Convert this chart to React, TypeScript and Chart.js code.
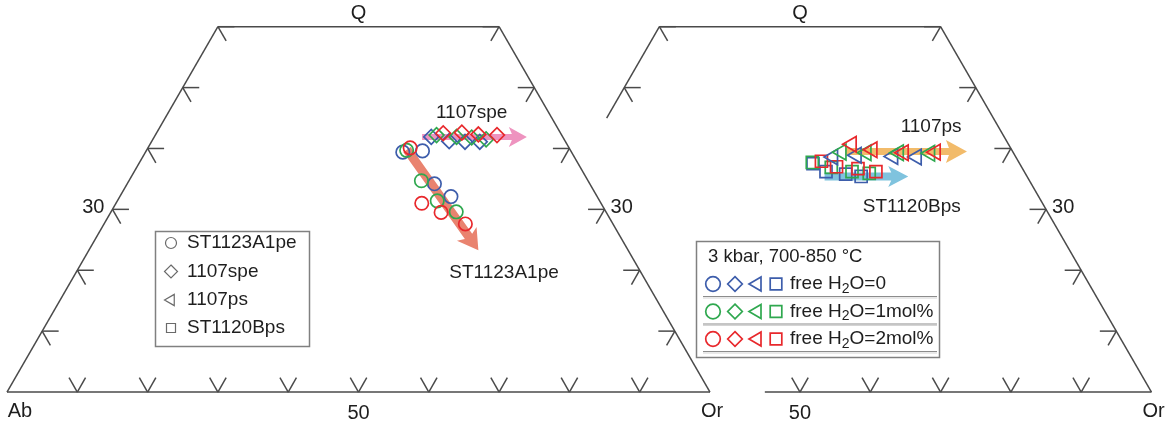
import React, { useEffect, useRef } from "react";
import { Chart, registerables } from "chart.js";

Chart.register(...registerables);

const W = 1165;
const H = 422;
const FONT = "'Liberation Sans', Arial, Helvetica, sans-serif";

// Compositions: Q and Or in %, Ab = 100 - Q - Or.
// Rows: free H2O = 0, 1 mol%, 2 mol%; columns: four temperatures (700-850 °C).
const waterLabels = ["0", "1mol%", "2mol%"];
const waterColors = ["#3d5dab", "#2fa84f", "#e8282c"];

const st1123A1peQ = [
  [39.4, 39.6, 34.2, 32.1],
  [39.7, 34.7, 31.4, 29.6],
  [40.1, 31.0, 29.5, 27.6],
];
const st1123A1peOr = [
  [36.6, 39.3, 43.7, 47.1],
  [37.0, 41.6, 45.5, 49.1],
  [37.3, 43.5, 47.0, 51.4],
];
const spe1107Q = [
  [41.9, 41.2, 41.1, 41.1],
  [42.2, 41.9, 41.8, 41.5],
  [42.5, 42.6, 42.3, 42.2],
];
const spe1107Or = [
  [39.4, 42.3, 44.6, 46.7],
  [40.0, 43.0, 45.2, 47.4],
  [40.8, 43.4, 45.9, 48.6],
];
const ps1107Q = [
  [38.6, 38.9, 38.7, 38.6],
  [39.4, 39.3, 39.3, 39.2],
  [40.7, 39.8, 39.3, 39.4],
];
const ps1107Or = [
  [35.4, 38.6, 43.9, 47.3],
  [36.2, 39.8, 44.4, 48.9],
  [37.0, 40.4, 45.1, 49.6],
];
const st1120BpsQ = [
  [37.5, 36.2, 35.8, 35.4],
  [37.7, 36.9, 36.2, 35.9],
  [37.9, 37.0, 36.7, 36.2],
];
const st1120BpsOr = [
  [33.1, 35.6, 38.6, 41.0],
  [32.9, 36.0, 39.3, 41.9],
  [34.1, 36.7, 39.9, 42.7],
];

const sampleNames = ["ST1123A1pe", "1107spe", "1107ps", "ST1120Bps"];
const samplePanel = [0, 0, 1, 1];

// Trend arrows (Q, Or at tail and head)
const arrowFromQ = [39.8, 41.9, 39.5, 35.4];
const arrowFromOr = [37.0, 38.1, 36.7, 35.8];
const arrowToQ = [23.3, 41.9, 39.5, 35.4];
const arrowToOr = [55.4, 53.0, 54.0, 47.7];
const arrowColors = ["#e9836f", "#ee93bf", "#f2bb6a", "#7fc3de"];

// Annotation positions (Q, Or)
const labelQ = [19.6, 45.8, 43.5, 30.4];
const labelOr = [60.9, 43.2, 46.9, 50.7];

// Axis ticks
const gridStep = 10;
const qTop = 60;
const qLabel = "30";
const orLabel = "50";

const SQ = Math.sqrt(3) / 2;
const PANEL_SHIFT = [0, 62.8];
const PX_PER_UNIT = 7.03;
const toXY = (q: number, or: number, panel: number) => ({
  x: PANEL_SHIFT[panel] + or + q / 2,
  y: q * SQ,
});

const shapes = [
  { pointStyle: "circle", radius: 6.7, rotation: 0 },
  { pointStyle: "rectRot", radius: 7.4, rotation: 0 },
  { pointStyle: "triangle", radius: 9, rotation: 270 },
  { pointStyle: "rect", radius: 8.5, rotation: 0 },
];
const sampleQ = [st1123A1peQ, spe1107Q, ps1107Q, st1120BpsQ];
const sampleOr = [st1123A1peOr, spe1107Or, ps1107Or, st1120BpsOr];

function buildDatasets() {
  const ds: any[] = [];
  for (let s = 0; s < sampleNames.length; s++) {
    for (let w = 2; w >= 0; w--) {
      const qs = sampleQ[s][w];
      const ors = sampleOr[s][w];
      ds.push({
        label: sampleNames[s] + " free H2O=" + waterLabels[w],
        data: qs.map((q, i) => toXY(q, ors[i], samplePanel[s])),
        pointStyle: shapes[s].pointStyle,
        pointRadius: shapes[s].radius,
        pointRotation: shapes[s].rotation,
        borderColor: waterColors[w],
        backgroundColor: "rgba(0,0,0,0)",
        pointBorderWidth: 1.7,
        showLine: false,
        clip: false,
      });
    }
  }
  return ds;
}

function drawArrow(ctx: CanvasRenderingContext2D, x1: number, y1: number, x2: number, y2: number, shaftW: number, headL: number, headW: number, color: string) {
  const ang = Math.atan2(y2 - y1, x2 - x1);
  const len = Math.hypot(x2 - x1, y2 - y1);
  ctx.save();
  ctx.translate(x1, y1);
  ctx.rotate(ang);
  ctx.beginPath();
  ctx.moveTo(0, -shaftW / 2);
  ctx.lineTo(len - headL + 3, -shaftW / 2);
  ctx.lineTo(len - headL, -headW / 2);
  ctx.lineTo(len, 0);
  ctx.lineTo(len - headL, headW / 2);
  ctx.lineTo(len - headL + 3, shaftW / 2);
  ctx.lineTo(0, shaftW / 2);
  ctx.closePath();
  ctx.fillStyle = color;
  ctx.fill();
  ctx.restore();
}

function drawMarker(ctx: CanvasRenderingContext2D, kind: number, x: number, y: number, r: number, color: string, lw: number) {
  ctx.save();
  ctx.strokeStyle = color;
  ctx.lineWidth = lw;
  ctx.beginPath();
  if (kind === 0) {
    ctx.arc(x, y, r, 0, Math.PI * 2);
  } else if (kind === 1) {
    ctx.moveTo(x, y - r);
    ctx.lineTo(x + r, y);
    ctx.lineTo(x, y + r);
    ctx.lineTo(x - r, y);
    ctx.closePath();
  } else if (kind === 2) {
    ctx.moveTo(x - r, y);
    ctx.lineTo(x + r * 0.5, y - r * SQ);
    ctx.lineTo(x + r * 0.5, y + r * SQ);
    ctx.closePath();
  } else {
    ctx.rect(x - r, y - r, 2 * r, 2 * r);
  }
  ctx.stroke();
  ctx.restore();
}

const ternaryPlugin = {
  id: "ternaryFrame",
  beforeDatasetsDraw(chart: any) {
    const ctx: CanvasRenderingContext2D = chart.ctx;
    const xs = chart.scales.x;
    const ys = chart.scales.y;
    const P = (q: number, or: number, panel: number) => {
      const p = toXY(q, or, panel);
      return [xs.getPixelForValue(p.x), ys.getPixelForValue(p.y)];
    };
    ctx.save();
    ctx.strokeStyle = "#4a4a4a";
    ctx.lineWidth = 1.5;
    ctx.lineCap = "butt";
    const seg = (a: number[], b: number[]) => {
      ctx.beginPath();
      ctx.moveTo(a[0], a[1]);
      ctx.lineTo(b[0], b[1]);
      ctx.stroke();
    };
    const L = 16.5;
    const c60 = 0.5;
    const s60 = SQ;
    const tick = (p: number[], arms: number[][]) => {
      for (const a of arms) seg(p, [p[0] + a[0] * L, p[1] + a[1] * L]);
    };
    const baseArms = [[-c60, -s60], [c60, -s60]];
    const leftArms = [[1, 0], [c60, s60]];
    const rightArms = [[-1, 0], [-c60, s60]];
    const topOr = 100 - qTop;

    // Left panel
    seg(P(0, 0, 0), P(0, 100, 0));
    seg(P(0, 0, 0), P(qTop, 0, 0));
    seg(P(qTop, 0, 0), P(qTop, topOr, 0));
    seg(P(qTop, topOr, 0), P(0, 100, 0));
    for (let v = gridStep; v < 100; v += gridStep) tick(P(0, v, 0), baseArms);
    for (let q = gridStep; q <= qTop; q += gridStep) {
      tick(P(q, 0, 0), leftArms);
      tick(P(q, 100 - q, 0), rightArms);
    }

    // Right panel (partial)
    seg(P(0, 45, 1), P(0, 100, 1));
    seg(P(45, 0, 1), P(qTop, 0, 1));
    seg(P(qTop, 0, 1), P(qTop, topOr, 1));
    seg(P(qTop, topOr, 1), P(0, 100, 1));
    for (let v = 50; v < 100; v += gridStep) tick(P(0, v, 1), baseArms);
    for (let q = gridStep; q <= qTop; q += gridStep) {
      if (q >= 50) tick(P(q, 0, 1), leftArms);
      tick(P(q, 100 - q, 1), rightArms);
    }
    ctx.restore();

    // Trend arrows
    const arrowDims = [
      [9, 20, 24],
      [6, 18, 20],
      [7, 21, 23],
      [8, 20, 21],
    ];
    for (let i = 0; i < arrowFromQ.length; i++) {
      const a = P(arrowFromQ[i], arrowFromOr[i], samplePanel[i]);
      const b = P(arrowToQ[i], arrowToOr[i], samplePanel[i]);
      drawArrow(ctx, a[0], a[1], b[0], b[1], arrowDims[i][0], arrowDims[i][1], arrowDims[i][2], arrowColors[i]);
    }
  },
  afterDatasetsDraw(chart: any) {
    const ctx: CanvasRenderingContext2D = chart.ctx;
    const xs = chart.scales.x;
    const ys = chart.scales.y;
    const P = (q: number, or: number, panel: number) => {
      const p = toXY(q, or, panel);
      return [xs.getPixelForValue(p.x), ys.getPixelForValue(p.y)];
    };
    ctx.save();
    ctx.fillStyle = "#1e1e1e";
    ctx.textBaseline = "middle";
    ctx.textAlign = "center";

    // Vertex & tick labels
    ctx.font = `20px ${FONT}`;
    for (const panel of [0, 1]) {
      const top = P(qTop, (100 - qTop) / 2, panel);
      ctx.textAlign = "center";
      ctx.fillText("Q", top[0], top[1] - 13);
      const orC = P(0, 100, panel);
      ctx.fillText("Or", orC[0] + 2, orC[1] + 19);
      const fifty = P(0, Number(orLabel), panel);
      ctx.fillText(orLabel, fifty[0], fifty[1] + 21);
      const q30 = Number(qLabel);
      const rt = P(q30, 100 - q30, panel);
      ctx.textAlign = "left";
      ctx.fillText(qLabel, rt[0] + 6, rt[1] - 2);
    }
    const ab = P(0, 0, 0);
    ctx.textAlign = "center";
    ctx.fillText("Ab", ab[0] + 13, ab[1] + 19);
    const lq = P(Number(qLabel), 0, 0);
    ctx.textAlign = "right";
    ctx.fillText(qLabel, lq[0] - 8, lq[1] - 2);

    // Annotations
    ctx.font = `19px ${FONT}`;
    ctx.textAlign = "center";
    for (let i = 0; i < sampleNames.length; i++) {
      const p = P(labelQ[i], labelOr[i], samplePanel[i]);
      ctx.fillText(sampleNames[i], p[0], p[1]);
    }

    // Left legend (samples)
    ctx.strokeStyle = "#808080";
    ctx.lineWidth = 1.5;
    ctx.strokeRect(155.5, 231.5, 154, 115);
    const legY = [243, 271.5, 300, 328];
    const legR = [5.5, 6.5, 6.5, 4.5];
    ctx.textAlign = "left";
    for (let i = 0; i < sampleNames.length; i++) {
      drawMarker(ctx, i, 171, legY[i], legR[i], "#6a6a6a", 1.2);
      ctx.fillStyle = "#1e1e1e";
      ctx.fillText(sampleNames[i], 187, legY[i]);
    }

    // Right legend (free water)
    ctx.strokeStyle = "#808080";
    ctx.lineWidth = 1.5;
    ctx.strokeRect(696.5, 241.5, 243, 116);
    ctx.fillStyle = "#1e1e1e";
    ctx.font = `18.5px ${FONT}`;
    ctx.fillText("3 kbar, 700-850 °C", 708, 257);
    const rowY = [284, 311.5, 339];
    const mx = [713, 735, 757, 776];
    const mr = [7.3, 7.3, 8, 5.8];
    for (let w = 0; w < 3; w++) {
      for (let k = 0; k < 4; k++) drawMarker(ctx, k, mx[k], rowY[w], mr[k], waterColors[w], 1.7);
      ctx.fillStyle = "#1e1e1e";
      ctx.font = `19px ${FONT}`;
      let x = 790;
      ctx.fillText("free H", x, rowY[w]);
      x += ctx.measureText("free H").width;
      ctx.font = `14px ${FONT}`;
      ctx.fillText("2", x, rowY[w] + 5);
      x += ctx.measureText("2").width;
      ctx.font = `19px ${FONT}`;
      ctx.fillText("O=" + waterLabels[w], x, rowY[w]);
      const ly = rowY[w] + 12.5;
      ctx.strokeStyle = "#8c8c8c";
      ctx.lineWidth = 1.2;
      ctx.beginPath();
      ctx.moveTo(703, ly);
      ctx.lineTo(937, ly);
      ctx.stroke();
      ctx.strokeStyle = "#d4d4d4";
      ctx.beginPath();
      ctx.moveTo(703, ly + 1.5);
      ctx.lineTo(937, ly + 1.5);
      ctx.stroke();
    }
    ctx.restore();
  },
};

export default function App() {
  const ref = useRef<HTMLCanvasElement | null>(null);
  useEffect(() => {
    if (!ref.current) return;
    const chart = new Chart(ref.current, {
      type: "scatter",
      data: { datasets: buildDatasets() },
      options: {
        animation: false,
        responsive: false,
        events: [],
        layout: { padding: 0, autoPadding: false },
        plugins: { legend: { display: false }, tooltip: { enabled: false } },
        scales: {
          x: { type: "linear", display: false, min: -7 / PX_PER_UNIT, max: (W - 7) / PX_PER_UNIT },
          y: { type: "linear", display: false, min: -(H - 392) / PX_PER_UNIT, max: 392 / PX_PER_UNIT },
        },
      },
      plugins: [ternaryPlugin],
    } as any);
    return () => chart.destroy();
  }, []);
  return (
    <div style={{ position: "fixed", left: 0, top: 0, width: W, height: H, background: "#fff" }}>
      <canvas ref={ref} width={W} height={H} style={{ display: "block", width: W, height: H }} />
    </div>
  );
}
